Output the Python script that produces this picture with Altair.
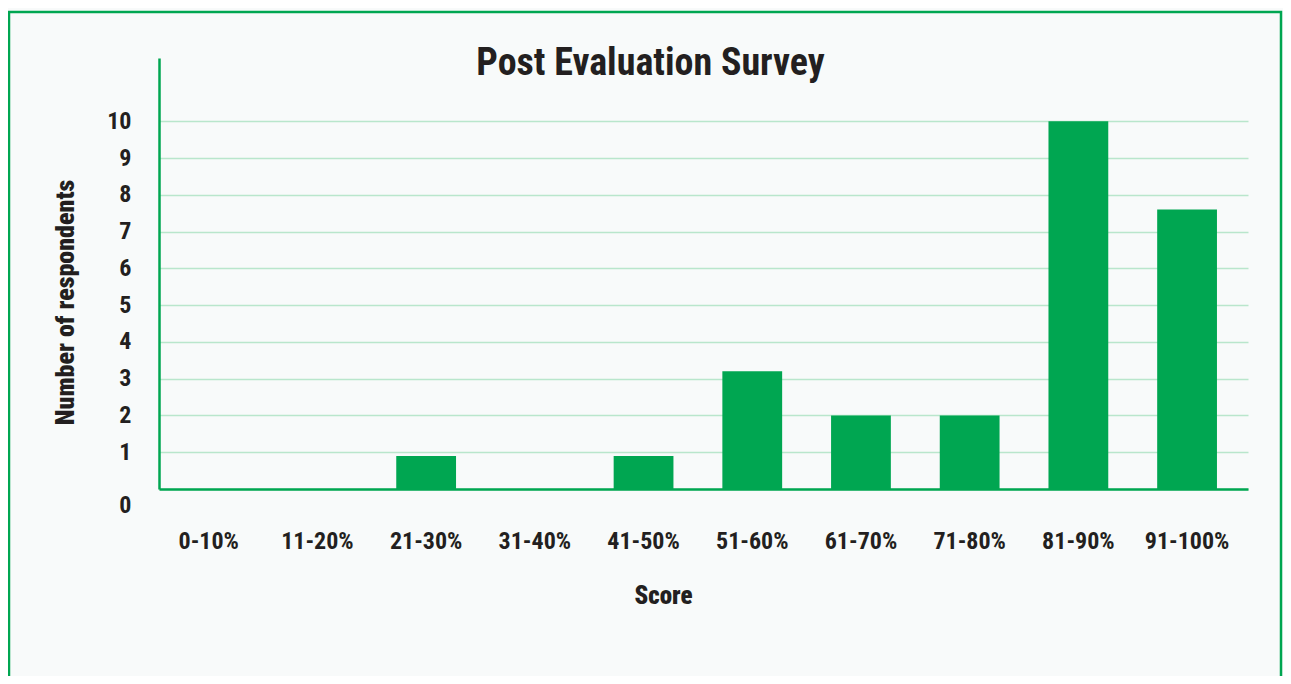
import altair as alt
import pandas as pd

categories = ["0-10%", "11-20%", "21-30%", "31-40%", "41-50%",
              "51-60%", "61-70%", "71-80%", "81-90%", "91-100%"]
respondents = [0, 0, 0.9, 0, 0.9, 3.2, 2, 2, 10, 7.6]
y_ticks = [0, 1, 2, 3, 4, 5, 6, 7, 8, 9, 10]

GREEN = "#00a651"
GRID = "#b9e6cc"
INK = "#231f20"
FONT = "Liberation Sans Narrow, Roboto Condensed, DejaVu Sans Condensed, Roboto"

df = pd.DataFrame({"score": categories, "count": respondents})

bars = alt.Chart(df).mark_bar(color=GREEN).encode(
    x=alt.X(
        "score:N",
        sort=categories,
        scale=alt.Scale(paddingInner=0.45, paddingOuter=0.234, align=0.39),
        axis=alt.Axis(
            title="Score",
            labelAngle=0,
            ticks=False,
            grid=False,
            domainColor=GREEN,
            domainWidth=2.5,
            labelFont=FONT,
            labelFontSize=24,
            labelFontWeight="bold",
            labelColor=INK,
            labelPadding=40,
            titleFont=FONT,
            titleFontSize=25,
            titleFontWeight=900,
            titleColor=INK,
            titlePadding=30,
            titleX=504,
        ),
    ),
    y=alt.Y(
        "count:Q",
        scale=alt.Scale(domain=[0, 11.72], nice=False),
        axis=alt.Axis(
            title="Number of respondents",
            values=y_ticks,
            ticks=False,
            grid=True,
            gridColor=GRID,
            gridWidth=1.5,
            domainColor=GREEN,
            domainWidth=2.5,
            labelFont=FONT,
            labelFontSize=24,
            labelFontWeight="bold",
            labelColor=INK,
            labelPadding=28,
            labelOffset={"condition": {"test": "datum.value === 0", "value": 16}, "value": 0},
            titleFont=FONT,
            titleFontSize=26,
            titleFontWeight=900,
            titleColor=INK,
            titlePadding=28,
            titleY=244,
        ),
    ),
)

frame = alt.Chart(pd.DataFrame({"a": [0]})).mark_rect(
    filled=False, stroke=GREEN, strokeWidth=2.5
).encode(
    x=alt.value(-150), x2=alt.value(1122), y=alt.value(-46), y2=alt.value(700)
)

chart = alt.layer(bars, frame).properties(
    width=1089,
    height=431,
    padding={"left": 151, "top": 50, "right": 35, "bottom": 187},
    autosize=alt.AutoSizeParams(type="none"),
    background="#f8fafa",
    title=alt.TitleParams(
        "Post Evaluation Survey",
        font=FONT,
        fontSize=38,
        fontWeight="bold",
        color=INK,
        anchor="middle",
        frame="group",
        dx=-53,
        dy=76,
    ),
).configure_view(stroke=None)

chart.save("out.html", embed_options={"renderer": "svg", "actions": False})
